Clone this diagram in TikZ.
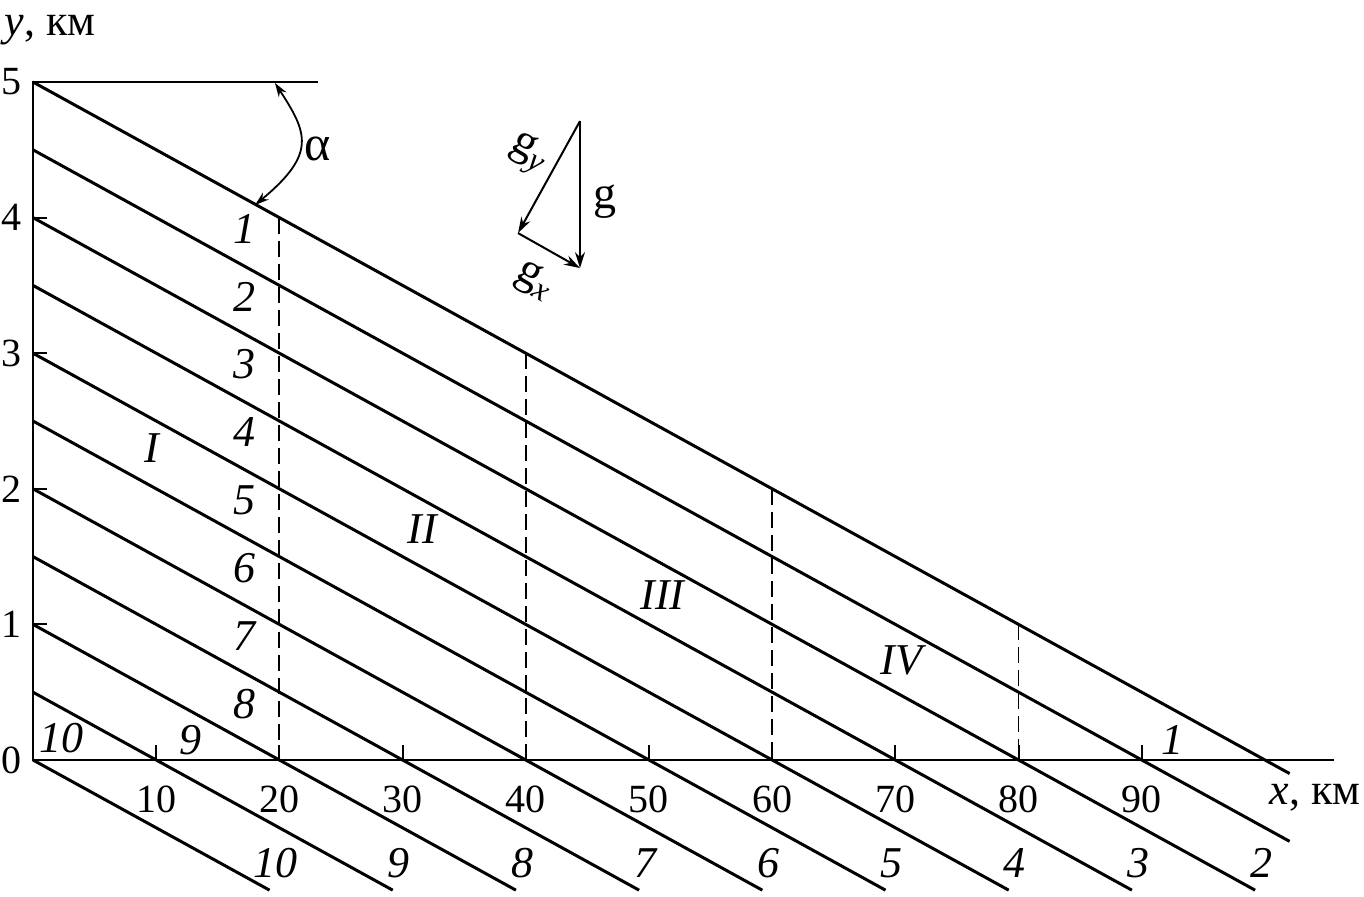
\documentclass[tikz,border=0pt]{standalone}
\usepackage{fontspec}
\setmainfont{Liberation Serif}
\usetikzlibrary{arrows.meta}
\begin{document}
\begin{tikzpicture}[x=6.16pt,y=67.8pt,
  level/.style={line width=1.5pt},
  axis/.style={line width=1pt},
  guide/.style={line width=0.9pt, dash pattern=on 8pt off 3.5pt},
  vec/.style={line width=1pt,-{Stealth[length=8pt,width=5pt]}},
  arcstyle/.style={line width=0.9pt,{Stealth[length=7pt,width=4.5pt]}-{Stealth[length=7pt,width=4.5pt]}},
  ticklab/.style={font=\fontsize{20}{24}\selectfont, inner sep=0pt},
  namelab/.style={font=\fontsize{22}{26}\selectfont, inner sep=0pt},
  lab/.style={font=\fontsize{22}{26}\selectfont\itshape, inner sep=0pt},
  glab/.style={font=\fontsize{23}{26}\selectfont, inner sep=0pt}]
\useasboundingbox (-2.679,-1.003) rectangle (108.04,5.605);
% axes
\coordinate (O) at (0,0);
\coordinate (Y5) at (0,5);
\coordinate (Xend) at (105.6,0);
\coordinate (Htop) at (23.1,5);
\draw[axis] (Xend) -- (O) -- (Y5) -- (Htop);
\foreach \t in {10,20,...,90} {
  \coordinate (xt\t) at (\t,0);
  \coordinate (xu\t) at (\t,0.11);
  \draw[axis] (xt\t) -- (xu\t);
  \node[ticklab] (xl\t) at (\t,-0.288) {\t};
}
\foreach \t in {1,2,3,4} {
  \coordinate (yt\t) at (0,\t);
  \coordinate (yu\t) at (1.14,\t);
  \draw[axis] (yt\t) -- (yu\t);
}
\foreach \t in {0,...,5} {
  \node[ticklab] (yl\t) at (-1.75,\t) {\t};
}
\node[namelab] (xname) at (104.06,-0.28) {\textit{x}, км};
\node[namelab] (yname) at (1.38,5.38) {\textit{y}, км};
% level lines
\foreach \k/\ex/\ey in {1/102/-0.1, 2/102/-0.6, 3/99.2/-0.96, 4/89.2/-0.96,
  5/79.2/-0.96, 6/69.2/-0.96, 7/59.2/-0.96, 8/49.2/-0.96, 9/39.2/-0.96,
  10/29.2/-0.96, 11/19.2/-0.96} {
  \coordinate (s\k) at (0,{5.5-0.5*\k});
  \coordinate (e\k) at (\ex,\ey);
  \draw[level] (s\k) -- (e\k);
}
% dashed verticals
\foreach \xx/\yy in {20/4, 40/3, 60/2, 80/1} {
  \coordinate (dt\xx) at (\xx,\yy);
  \coordinate (db\xx) at (\xx,0);
  \draw[guide] (dt\xx) -- (db\xx);
}
% line labels
\foreach \k in {1,...,8} {
  \node[lab] (c\k) at (17.13,{3.916-0.5*(\k-1)}) {\k};
}
\node[lab] (t10) at (2.35,0.162) {10};
\node[lab] (t9) at (12.82,0.147) {9};
\node[lab] (t1) at (92.53,0.147) {1};
\foreach \j in {10,9,...,2} {
  \node[lab] (b\j) at ({19.7+10*(10-\j)},-0.76) {\j};
}
% zones
\node[lab] (zI) at (9.66,2.30) {I};
\node[lab] (zII) at (31.6,1.70) {II};
\node[lab] (zIII) at (51.1,1.216) {III};
\node[lab] (zIV) at (70.5,0.737) {IV};
% angle
\coordinate (a1) at (19.64,4.993);
\coordinate (a2) at (18.02,4.093);
\draw[arcstyle] (a1) .. controls (22.30,4.622) and (23.02,4.470) .. (a2);
\node[font=\fontsize{25}{28}\selectfont, inner sep=0pt] (alpha) at (23.13,4.506) {α};
% gravity vectors
\coordinate (T) at (44.40,4.712);
\coordinate (A) at (39.37,3.886);
\coordinate (B) at (44.40,3.628);
\draw[vec] (T) -- (B);
\draw[vec] (T) -- (A);
\draw[vec] (A) -- (B);
\node[glab] (gl) at (46.43,4.115) {g};
\node[glab, rotate=-30] (gyl) at (40.2,4.47) {g\textsubscript{\itshape y}};
\node[glab, rotate=-30] (gxl) at (40.67,3.53) {g\textsubscript{\itshape x}};
\end{tikzpicture}
\end{document}
